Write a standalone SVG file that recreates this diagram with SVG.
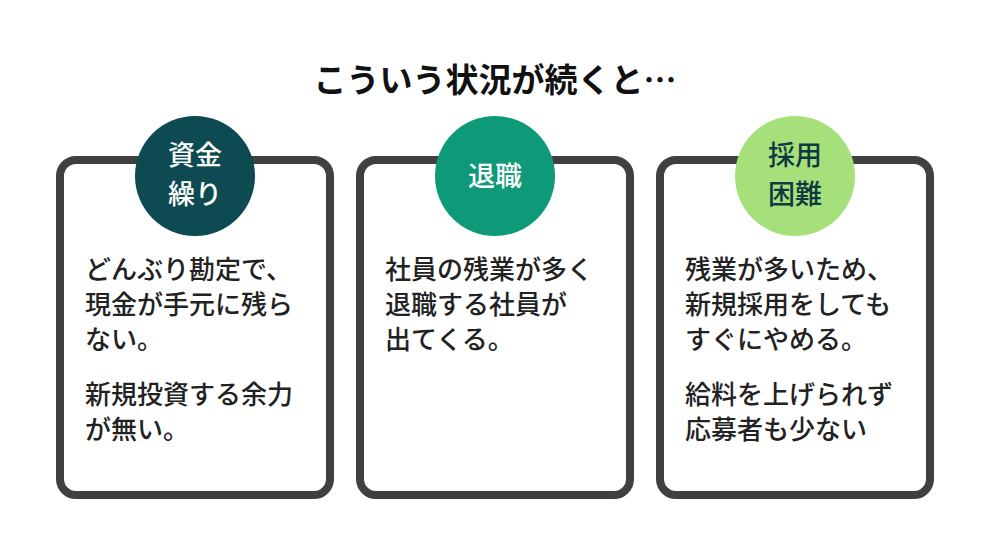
<svg xmlns="http://www.w3.org/2000/svg" width="990" height="557" viewBox="0 0 990 557">
<style>
.card{fill:#fff;stroke:#404040;stroke-width:8}
text{font-family:"Noto Sans CJK JP","Noto Sans",sans-serif}
.t{font-size:26px;fill:#222;font-weight:500}
.c{font-size:27px;text-anchor:middle;font-weight:500}
</style>
<rect width="990" height="557" fill="#fff"/>
<text x="495" y="92" text-anchor="middle" font-size="33" font-weight="bold" fill="#111">こういう状況が続くと…</text>
<g id="card1">
<rect class="card" x="60" y="160" width="270" height="335" rx="16"/>
<circle cx="195" cy="176" r="60" fill="#0d4a52"/>
<text class="c" x="195" y="165" fill="#fff">資金</text>
<text class="c" x="195" y="204" fill="#fff">繰り</text>
<text class="t" x="85" y="279">どんぶり勘定で、</text>
<text class="t" x="85" y="314">現金が手元に残ら</text>
<text class="t" x="85" y="349">ない。</text>
<text class="t" x="85" y="404">新規投資する余力</text>
<text class="t" x="85" y="439">が無い。</text>
</g>
<g id="card2">
<rect class="card" x="360" y="160" width="270" height="335" rx="16"/>
<circle cx="495" cy="176" r="60" fill="#0e9a78"/>
<text class="c" x="495" y="186" fill="#fff">退職</text>
<text class="t" x="385" y="279">社員の残業が多く</text>
<text class="t" x="385" y="314">退職する社員が</text>
<text class="t" x="385" y="349">出てくる。</text>
</g>
<g id="card3">
<rect class="card" x="660" y="160" width="270" height="335" rx="16"/>
<circle cx="795" cy="176" r="60" fill="#a6e07a"/>
<text class="c" x="795" y="165" fill="#0d3a40">採用</text>
<text class="c" x="795" y="204" fill="#0d3a40">困難</text>
<text class="t" x="685" y="279">残業が多いため、</text>
<text class="t" x="685" y="314">新規採用をしても</text>
<text class="t" x="685" y="349">すぐにやめる。</text>
<text class="t" x="685" y="404">給料を上げられず</text>
<text class="t" x="685" y="439">応募者も少ない</text>
</g>
<g id="connectors"/>
</svg>
